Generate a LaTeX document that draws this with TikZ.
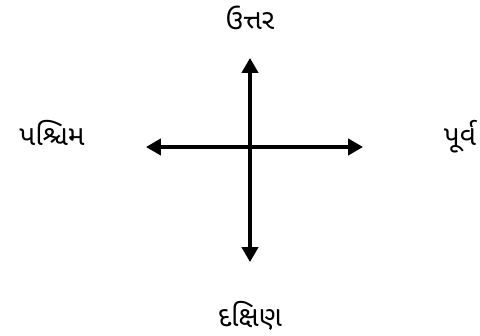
\documentclass[tikz,border=0pt]{standalone}
\usepackage{fontspec}
\newfontfamily\gujfont[Script=Gujarati]{Noto Sans Gujarati UI}
\usepackage{tikz}
\usetikzlibrary{arrows.meta, calc, positioning}

\begin{document}
\begin{tikzpicture}
    \useasboundingbox (0,0) rectangle (12,8.4);
    \gujfont\fontsize{20}{24}\selectfont
    \coordinate (centre) at (6.25,4.725);

    % arrow tips
    \coordinate (ntip) at (6.25,6.95);
    \coordinate (stip) at (6.25,1.85);
    \coordinate (wtip) at (3.65,4.725);
    \coordinate (etip) at (9.075,4.725);

    \node (north) at (6.25,7.95) {ઉત્તર};
    \node (west) at (1.3,5.075) {પશ્ચિમ};
    \node (east) at (11.5,4.975) {પૂર્વ};
    \node (south) at (6.25,0.5) {દક્ષિણ};

\draw[<->, line width=2.2pt, >={Triangle[length=10.5pt, width=11.5pt]}] (wtip) -- (etip);
\draw[<->, line width=2.2pt, >={Triangle[length=10.5pt, width=11.5pt]}] (stip) -- (ntip);

\end{tikzpicture}
\end{document}
